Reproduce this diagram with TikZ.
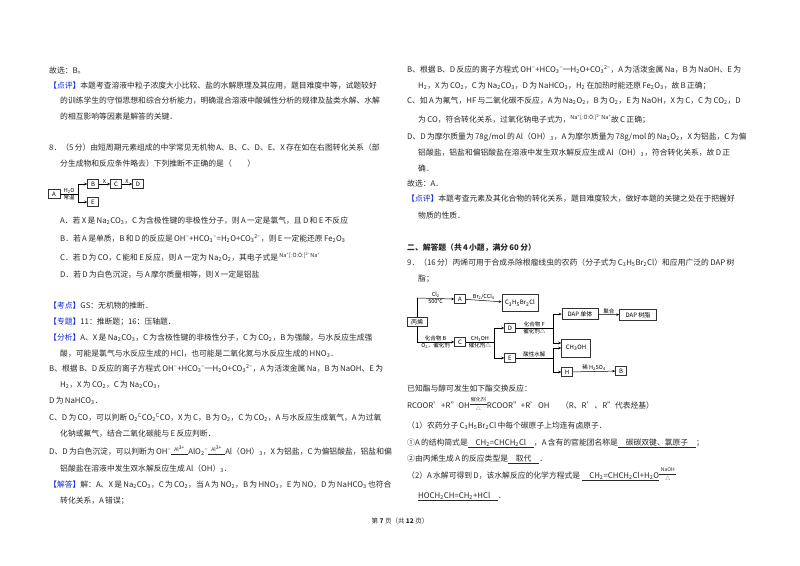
\documentclass[tikz,border=0pt]{standalone}
\usepackage{fontspec}
\setmainfont{Noto Sans CJK SC}
\XeTeXlinebreaklocale "zh"
\XeTeXlinebreakskip=0pt plus 3pt minus 0.4pt
\usetikzlibrary{arrows.meta}
\newcommand{\dn}[1]{\textsubscript{#1}}
\newcommand{\up}[1]{\textsuperscript{#1}}
\newcommand{\blu}[1]{\textcolor{hblue}{#1}}
\newcommand{\myfnt}{\fontsize{7.8}{10}\selectfont\spaceskip=1.3pt plus 1pt\relax}
\newcommand{\jj}{\parfillskip=0pt\tolerance=10000\hbadness=10000\spaceskip=1.3pt plus 3pt minus 0.6pt\relax}
\newcommand{\cnd}[2]{\raisebox{-0.55ex}{\shortstack{\fontsize{5}{5}\selectfont #1\\[-1pt]\rule{2.2em}{0.5pt}\\[-1pt]\fontsize{5}{5}\selectfont #2}}}
\newcommand{\nao}{\raisebox{0.6ex}{\fontsize{5.5}{6}\selectfont Na\up{+}[:Ö:Ö:]\up{2−}Na\up{+}}}
\definecolor{hblue}{RGB}{20,40,210}
\definecolor{txt}{RGB}{40,40,40}
\begin{document}
\begin{tikzpicture}[x=1pt,y=-1pt,
  L/.style={anchor=base west,inner sep=0pt,font=\myfnt,text=txt},
  J/.style={L,text width=#1},
  bx/.style={draw=black!80,line width=0.5pt,inner sep=1pt,font=\fontsize{6}{7}\selectfont,minimum height=9pt},
  lb/.style={inner sep=0.5pt,font=\fontsize{5.5}{6}\selectfont},
  ar/.style={-{Stealth[length=3pt,width=2.5pt]},line width=0.5pt},
  ln/.style={line width=0.5pt}]
\useasboundingbox[fill=white] (0,0) rectangle (800,565);
% ---------- left column
\node[L] at (49,73) {故选：B。};
\node[J=343] at (49,88) {\jj\blu{【点评】}本题考查溶液中粒子浓度大小比较、盐的水解原理及其应用，题目难度中等，试题较好};
\node[J=332] at (60,103) {\jj 的训练学生的守恒思想和综合分析能力，明确混合溶液中酸碱性分析的规律及盐类水解、水解};
\node[L] at (60,119) {的相互影响等因素是解答的关键．};
\node[J=343] at (49,150) {\jj 8．（5 分）由短周期元素组成的中学常见无机物 A、B、C、D、E、X 存在如在右图转化关系（部};
\node[L] at (60,166) {分生成物和反应条件略去）下列推断不正确的是（　　）};
% small diagram
\node[bx,minimum width=12pt] (lA) at (54,194) {A};
\node[bx,minimum width=11pt] (lB) at (93,184) {B};
\node[bx,minimum width=11pt] (lE) at (93,202) {E};
\node[bx,minimum width=11pt] (lC) at (116,184) {C};
\node[bx,minimum width=11pt] (lD) at (138,184) {D};
\coordinate (lj) at (78,194);
\draw[ln] (lA.east) -- (lj) node[lb,midway,above]{H\dn{2}O} node[lb,midway,below]{常温};
\draw[ln] (78,184) -- (78,202);
\draw[ar] (78,184) -- (lB.west);
\draw[ar] (78,202) -- (lE.west);
\draw[ar] (lB) -- (lC) node[lb,midway,above]{X};
\draw[ar] (lC) -- (lD) node[lb,midway,above]{X};
\node[L] at (60,223) {A．若 X 是 Na\dn{2}CO\dn{3}，C 为含极性键的非极性分子，则 A 一定是氯气，且 D 和 E 不反应};
\node[L] at (60,241) {B．若 A 是单质，B 和 D 的反应是 OH\up{−}+HCO\dn{3}\up{−}=H\dn{2}O+CO\dn{3}\up{2−}，则 E 一定能还原 Fe\dn{2}O\dn{3}};
\node[L] at (60,260) {C．若 D 为 CO，C 能和 E 反应，则 A 一定为 Na\dn{2}O\dn{2}，其电子式是 \nao};
\node[L] at (60,277) {D．若 D 为白色沉淀，与 A 摩尔质量相等，则 X 一定是铝盐};
\node[L] at (49,308) {\blu{【考点】}GS：无机物的推断．};
\node[L] at (49,324) {\blu{【专题】}11：推断题；16：压轴题．};
\node[J=343] at (49,340) {\jj\blu{【分析】}A、X 是 Na\dn{2}CO\dn{3}，C 为含极性键的非极性分子，C 为 CO\dn{2}，B 为强酸，与水反应生成强};
\node[L] at (60,356) {酸，可能是氯气与水反应生成的 HCl，也可能是二氧化氮与水反应生成的 HNO\dn{3}．};
\node[J=343] at (49,371) {\jj B、根据 B、D 反应的离子方程式 OH\up{−}+HCO\dn{3}\up{−}═H\dn{2}O+CO\dn{3}\up{2−}，A 为活泼金属 Na，B 为 NaOH、E 为};
\node[L] at (60,387) {H\dn{2}，X 为 CO\dn{2}，C 为 Na\dn{2}CO\dn{3}，};
\node[L] at (49,403) {D 为 NaHCO\dn{3}．};
\node[J=343] at (49,420) {\jj C、D 为 CO，可以判断 O\dn{2}\up{C}CO\dn{2}\up{C}CO，X 为 C，B 为 O\dn{2}，C 为 CO\dn{2}，A 与水反应生成氧气，A 为过氧};
\node[L] at (60,436) {化钠或氟气，结合二氧化碳能与 E 反应判断．};
\node[J=343] at (49,454) {\jj D、D 为白色沉淀，可以判断为 OH\up{−}\cnd{Al\up{3+}}{}AlO\dn{2}\up{−}\cnd{Al\up{3+}}{}Al（OH）\dn{3}，X 为铝盐，C 为偏铝酸盐，铝盐和偏};
\node[L] at (60,471) {铝酸盐在溶液中发生双水解反应生成 Al（OH）\dn{3}．};
\node[J=343] at (49,487) {\jj\blu{【解答】}解：A、X 是 Na\dn{2}CO\dn{3}，C 为 CO\dn{2}，当 A 为 NO\dn{2}，B 为 HNO\dn{3}，E 为 NO，D 为 NaHCO\dn{3} 也符合};
\node[L] at (60,503) {转化关系，A 错误；};
\node[anchor=base,inner sep=0pt,font=\fontsize{6.5}{8}\selectfont,text=txt] at (400,523) {第 \textbf{7} 页（共 \textbf{12} 页）};
% ---------- right column
\node[J=343] at (407,72) {\jj B、根据 B、D 反应的离子方程式 OH\up{−}+HCO\dn{3}\up{−}═H\dn{2}O+CO\dn{3}\up{2−}，A 为活泼金属 Na，B 为 NaOH、E 为};
\node[J=332] at (418,88) {\jj H\dn{2}，X 为 CO\dn{2}，C 为 Na\dn{2}CO\dn{3}，D 为 NaHCO\dn{3}，H\dn{2} 在加热时能还原 Fe\dn{2}O\dn{3}，故 B 正确；};
\node[J=343] at (407,103) {\jj C、如 A 为氟气，HF 与二氧化碳不反应，A 为 Na\dn{2}O\dn{2}，B 为 O\dn{2}，E 为 NaOH，X 为 C，C 为 CO\dn{2}，D};
\node[L] at (418,122) {为 CO，符合转化关系，过氧化钠电子式为，\nao 故 C 正确；};
\node[J=343] at (407,139) {\jj D、D 为摩尔质量为 78g/mol 的 Al（OH）\dn{3}，A 为摩尔质量为 78g/mol 的 Na\dn{2}O\dn{2}，X 为铝盐，C 为偏};
\node[J=332] at (418,155) {\jj 铝酸盐，铝盐和偏铝酸盐在溶液中发生双水解反应生成 Al（OH）\dn{3}，符合转化关系，故 D 正};
\node[L] at (418,171) {确．};
\node[L] at (407,186) {故选：A．};
\node[J=343] at (407,201) {\jj\blu{【点评】}本题考查元素及其化合物的转化关系，题目难度较大，做好本题的关键之处在于把握好};
\node[L] at (418,218) {物质的性质．};
\node[L] at (407,250) {\textbf{二、解答题（共 4 小题，满分 60 分）}};
\node[J=343] at (407,265) {\jj 9．（16 分）丙烯可用于合成杀除根瘤线虫的农药（分子式为 C\dn{3}H\dn{5}Br\dn{2}Cl）和应用广泛的 DAP 树};
\node[L] at (418,281) {脂；};
% big diagram
\node[bx,minimum width=20pt] (pr) at (417,322) {丙烯};
\node[bx,minimum width=11pt] (A) at (460,299) {A};
\node[bx,minimum width=36pt,minimum height=17pt] (CB) at (520,303) {C\dn{3}H\dn{5}Br\dn{2}Cl};
\node[bx,minimum width=11pt] (C) at (460,342) {C};
\node[bx,minimum width=11pt] (D) at (510,328) {D};
\node[bx,minimum width=11pt] (E) at (510,358) {E};
\node[bx,minimum width=36pt,minimum height=11pt] (DAP) at (580,314) {DAP 单体};
\node[bx,minimum width=37pt,minimum height=11pt] (DR) at (638,315) {DAP 树脂};
\node[bx,minimum width=29pt,minimum height=18pt] (M) at (576,348) {CH\dn{3}OH};
\node[bx,minimum width=11pt] (H) at (567,372) {H};
\node[bx,minimum width=11pt] (B) at (621,371) {B};
\draw[ln] (417,317) -- (417,298) ; 
\draw[ar] (417,298) -- (A.west) node[lb,pos=0.5,above]{Cl\dn{2}} node[lb,pos=0.5,below]{500℃};
\draw[ar] (A) -- (CB) node[lb,midway,above]{Br\dn{2}/CCl\dn{4}};
\draw[ln] (417,327) -- (417,342);
\draw[ar] (417,342) -- (C.west) node[lb,pos=0.5,above]{化合物 B} node[lb,pos=0.5,below]{O\dn{2}，催化剂};
\draw[ln] (C.east) -- (494,342) node[lb,midway,above]{CH\dn{3}OH} node[lb,midway,below]{催化剂△};
\draw[ln] (494,328) -- (494,358);
\draw[ar] (494,328) -- (D.west);
\draw[ar] (494,358) -- (E.west);
\draw[ln] (D.east) -- (553,328) node[lb,midway,above]{化合物 F} node[lb,midway,below]{催化剂△};
\draw[ln] (553,314) -- (553,343);
\draw[ar] (553,314) -- (DAP.west);
\draw[ar] (553,343) -- (M.west|-553,343);
\draw[ar] (DAP) -- (DR) node[lb,midway,above]{聚合};
\draw[ln] (E.east) -- (553,358) node[lb,midway,above]{酸性水解};
\draw[ln] (553,348) -- (553,372);
\draw[ar] (553,348) -- (M.west|-553,348);
\draw[ar] (553,372) -- (H.west);
\draw[ar] (H) -- (B) node[lb,midway,above]{稀 H\dn{2}SO\dn{4}};
\node[L] at (407,391) {已知酯与醇可发生如下酯交换反应：};
\node[L] at (407,408) {RCOOR'+R"OH\cnd{催化剂}{△}RCOOR"+R'OH\hspace{1.5em}（R、R'、R"代表烃基）};
\node[L] at (407,428) {（1）农药分子 C\dn{3}H\dn{5}Br\dn{2}Cl 中每个碳原子上均连有卤原子．};
\node[L] at (407,445) {①A 的结构简式是\underline{\hspace{1em}CH\dn{2}=CHCH\dn{2}Cl\hspace{1em}}，A 含有的官能团名称是\underline{\hspace{1em}碳碳双键、氯原子\hspace{1em}}；};
\node[L] at (407,461) {②由丙烯生成 A 的反应类型是\underline{\hspace{1em}取代\hspace{1em}}．};
\node[J=343] at (407,478) {\jj（2）A 水解可得到 D，该水解反应的化学方程式是 \underline{\hspace{1em}CH\dn{2}=CHCH\dn{2}Cl+H\dn{2}O}\cnd{NaOH}{△}};
\node[L] at (418,498) {\underline{HOCH\dn{2}CH=CH\dn{2}+HCl\hspace{1em}}．};
\end{tikzpicture}
\end{document}
